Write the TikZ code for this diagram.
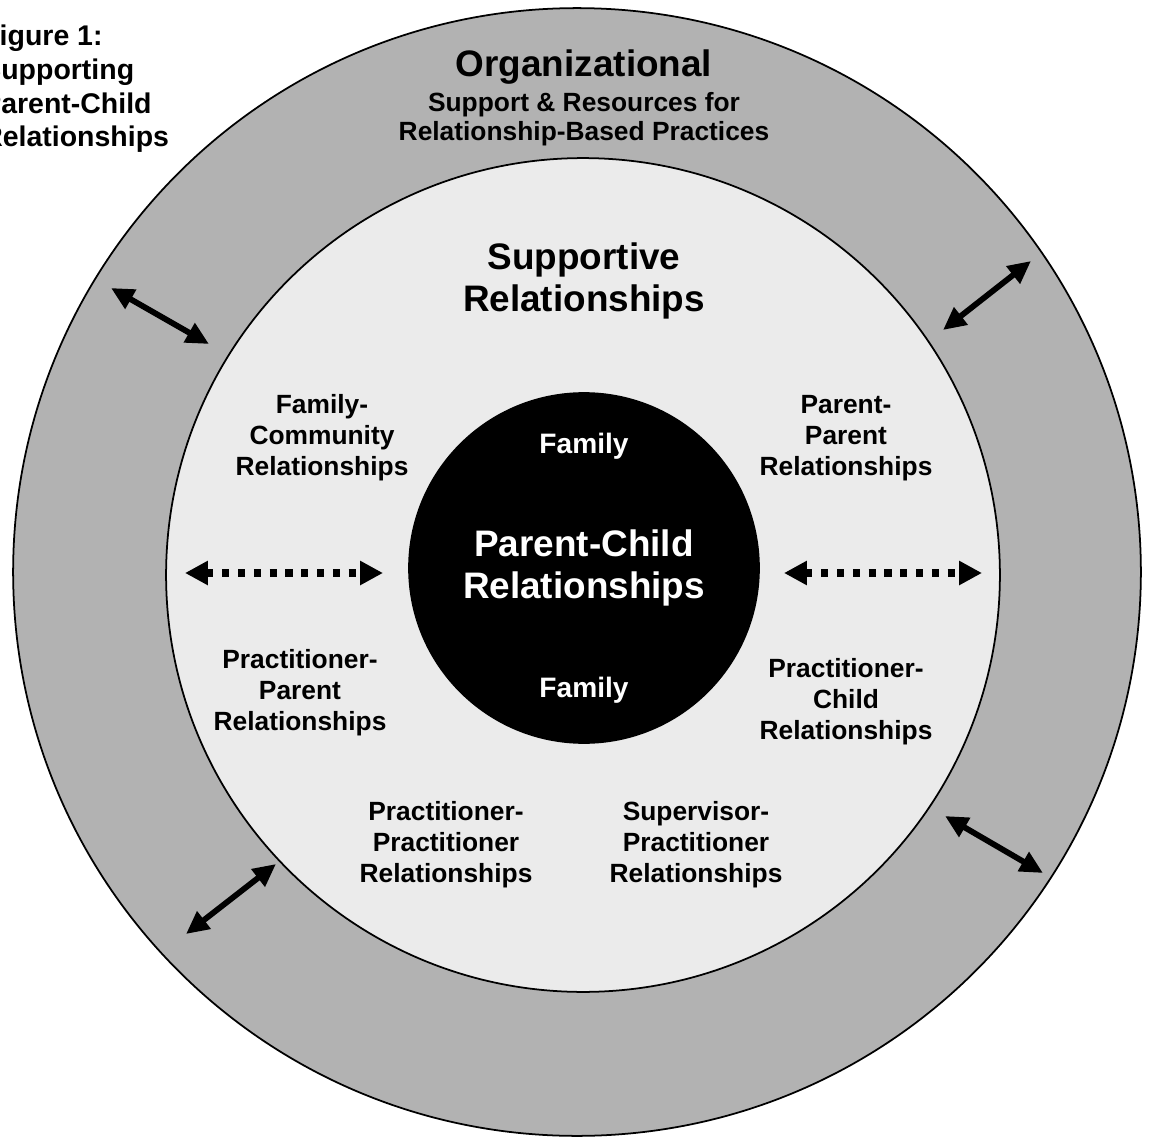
\documentclass[tikz,border=0pt]{standalone}
\usepackage{fontspec}
\setmainfont{Liberation Sans}
\usetikzlibrary{arrows.meta}

\begin{document}
\begin{tikzpicture}[
    x=0.02cm, y=-0.02cm,
    every node/.style={font=\bfseries},
    ring/.style={draw, line width=1pt, circle, inner sep=0pt},
    txt/.style={align=center, font=\bfseries\fontsize{15}{17.6}\selectfont},
    bigtxt/.style={align=center, font=\bfseries\fontsize{21}{23.5}\selectfont},
    famtxt/.style={text=white, font=\bfseries\fontsize{16}{19}\selectfont},
    linkarrow/.style={line width=3.3pt, {Triangle[length=13pt,width=12pt]}-{Triangle[length=13pt,width=12pt]}},
    dotarrow/.style={line width=4pt, dash pattern=on 4pt off 5pt, {Triangle[length=13pt,width=13pt]}-{Triangle[length=13pt,width=13pt]}}
]
\useasboundingbox (0,0) rectangle (1150,1139);

% 三个圆
\node[ring, fill=black!30, minimum size=22.56cm] (outer) at (577,572) {};
\node[ring, fill=black!8, minimum size=16.68cm] (inner) at (583,575) {};
\node[ring, fill=black, minimum size=7cm, bigtxt, text=white] (core) at (584,568) {Parent-Child\\Relationships};

% 标题（左边被裁掉）
\node[anchor=north west, inner sep=0pt, align=left, font=\bfseries\fontsize{16.2}{19.1}\selectfont] (caption) at (-18,25) {Figure 1:\\Supporting\\Parent-Child\\Relationships};

% 外圈文字
\node[bigtxt] (org) at (584,67) {Organizational};
\node[txt, font=\bfseries\fontsize{15}{16.5}\selectfont] (orgsub) at (584,119) {Support \& Resources for\\Relationship-Based Practices};

% 中圈文字
\node[bigtxt] (support) at (584,281) {Supportive\\Relationships};
\node[txt] (famcom) at (322,438) {Family-\\Community\\Relationships};
\node[txt] (parpar) at (846,438) {Parent-\\Parent\\Relationships};
\node[txt] (pracpar) at (300,693) {Practitioner-\\Parent\\Relationships};
\node[txt] (pracchild) at (846,702) {Practitioner-\\Child\\Relationships};
\node[txt] (pracprac) at (446,845) {Practitioner-\\Practitioner\\Relationships};
\node[txt] (supprac) at (696,845) {Supervisor-\\Practitioner\\Relationships};

% 内圈文字
\node[famtxt] (famtop) at (584,446) {Family};
\node[famtxt] (fambot) at (584,690) {Family};

% 箭头端点
\coordinate (tl1) at (111,288);
\coordinate (tl2) at (209,344);
\coordinate (tr1) at (943,330);
\coordinate (tr2) at (1031,261);
\coordinate (bl1) at (186,934);
\coordinate (bl2) at (276,864);
\coordinate (br1) at (945,816);
\coordinate (br2) at (1043,873);
\coordinate (dl1) at (185,573);
\coordinate (dl2) at (383,573);
\coordinate (dr1) at (784,573);
\coordinate (dr2) at (982,573);

% 实线箭头
\draw[linkarrow] (tl1) -- (tl2);
\draw[linkarrow] (tr1) -- (tr2);
\draw[linkarrow] (bl1) -- (bl2);
\draw[linkarrow] (br1) -- (br2);

% 虚线箭头
\draw[dotarrow] (dl1) -- (dl2);
\draw[dotarrow] (dr1) -- (dr2);

\end{tikzpicture}
\end{document}
